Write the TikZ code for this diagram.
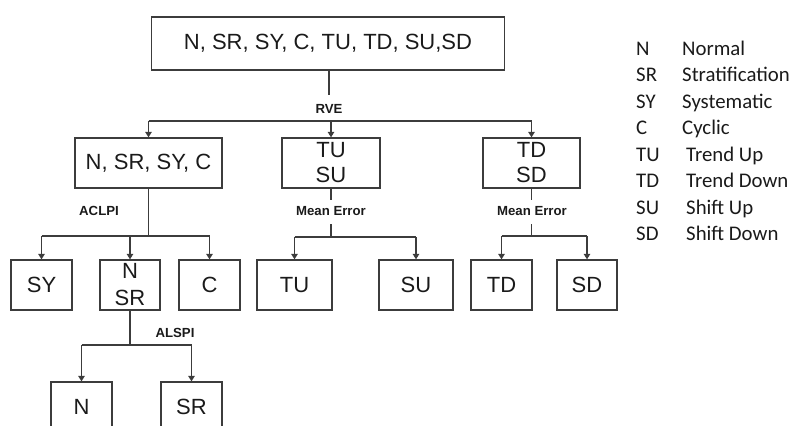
\documentclass[tikz,border=0pt]{standalone}
\usepackage{fontspec}
\setmainfont{Liberation Sans}
\newfontfamily\legendfont{Carlito}
\usepackage{tikz}
\usetikzlibrary{arrows.meta, positioning}
\definecolor{linegrey}{HTML}{3C3C3C}
\definecolor{textblack}{HTML}{1A1A1A}

\begin{document}
\begin{tikzpicture}[x=1pt, y=-1pt,
    box/.style={draw=linegrey, line width=1.3pt, inner sep=0pt, align=center,
                text=textblack, font=\fontsize{22}{25}\selectfont},
    lbl/.style={inner sep=0pt, text=textblack, font=\fontsize{13.2}{15}\selectfont\bfseries},
    link/.style={draw=linegrey, line width=1.3pt},
    arr/.style={link, -{Triangle[length=5.5pt, width=6.5pt]}},
    abbr/.style={anchor=base west, inner sep=0pt, text=textblack,
                 font=\legendfont\fontsize{20.8}{24}\selectfont}]
    \useasboundingbox (0,0) rectangle (796,426);
    \clip (0,0) rectangle (796,426);
    % Top box
    \node[box, minimum width=353pt, minimum height=53pt] (all) at (328,43.5)
         {N, SR, SY, C, TU, TD, SU,SD};
    % Groups
    \node[box, minimum width=147pt, minimum height=50pt] (gA) at (148.5,163) {N, SR, SY, C};
    \node[box, minimum width=98pt, minimum height=50pt] (gB) at (331,163) {TU\\SU};
    \node[box, minimum width=97pt, minimum height=50pt] (gC) at (531.5,163) {TD\\SD};
    % Leaves
    \node[box, minimum width=61pt, minimum height=50pt] (sy) at (41.5,285) {SY};
    \node[box, minimum width=60pt, minimum height=50pt] (nsr) at (130,285) {N\\[2pt]SR};
    \node[box, minimum width=61pt, minimum height=50pt] (cy) at (209.5,285) {C};
    \node[box, minimum width=75pt, minimum height=50pt] (tu) at (294.5,285) {TU};
    \node[box, minimum width=74pt, minimum height=50pt] (su) at (416,285) {SU};
    \node[box, minimum width=61pt, minimum height=50pt] (td) at (501.5,285) {TD};
    \node[box, minimum width=60pt, minimum height=50pt] (sd) at (587,285) {SD};
    \node[box, minimum width=61pt, minimum height=50pt] (nn) at (81.5,407) {N};
    \node[box, minimum width=61pt, minimum height=50pt] (sr) at (191.5,407) {SR};
    % Labels
    \node[lbl] (rve) at (329,109) {RVE};
    \node[lbl] (aclpi) at (99,211) {ACLPI};
    \node[lbl] (meA) at (331,211) {Mean Error};
    \node[lbl] (meB) at (532,211) {Mean Error};
    \node[lbl] (alspi) at (175,333) {ALSPI};
    % Bus points
    \coordinate (rveend) at (329,95);
    \coordinate (busA) at (0,121);
    \coordinate (busB) at (0,236);
    \coordinate (busC) at (0,237);
    \coordinate (busD) at (0,345);
    % RVE split
    \draw[link] (all.south -| rveend) -- (rveend);
    \draw[link] (gA |- busA) -- (gC |- busA);
    \draw[arr] (gA |- busA) -- (gA);
    \draw[arr] (gB |- busA) -- (gB);
    \draw[arr] (gC |- busA) -- (gC);
    % ACLPI split
    \draw[link] (gA) -- (gA |- busB);
    \draw[link] (sy |- busB) -- (cy |- busB);
    \draw[arr] (sy |- busB) -- (sy);
    \draw[arr] (nsr |- busB) -- (nsr);
    \draw[arr] (cy |- busB) -- (cy);
    % Mean Error split (up)
    \draw[link] (gB) -- (gB |- 0,200);
    \draw[link] (gB |- 0,224) -- (gB |- busC);
    \draw[link] (tu |- busC) -- (su |- busC);
    \draw[arr] (tu |- busC) -- (tu);
    \draw[arr] (su |- busC) -- (su);
    % Mean Error split (down)
    \draw[link] (gC) -- (gC |- 0,200);
    \draw[link] (gC |- 0,224) -- (gC |- busB);
    \draw[link] (td |- busB) -- (sd |- busB);
    \draw[arr] (td |- busB) -- (td);
    \draw[arr] (sd |- busB) -- (sd);
    % ALSPI split
    \draw[link] (nsr) -- (nsr |- busD);
    \draw[link] (nn |- busD) -- (sr |- busD);
    \draw[arr] (nn |- busD) -- (nn);
    \draw[arr] (sr |- busD) -- (sr);
    % Legend
    \node[abbr] (kN) at (636,55) {N};
    \node[abbr] (kSR) at (636,81.5) {SR};
    \node[abbr] (kSY) at (636,108) {SY};
    \node[abbr] (kC) at (636,134) {C};
    \node[abbr] (kTU) at (636,161) {TU};
    \node[abbr] (kTD) at (636,187) {TD};
    \node[abbr] (kSU) at (636,214) {SU};
    \node[abbr] (kSD) at (636,240) {SD};
    \node[abbr] at (682,55) {Normal};
    \node[abbr] at (682,81.5) {Stratification};
    \node[abbr] at (682,108) {Systematic};
    \node[abbr] at (682,134) {Cyclic};
    \node[abbr] at (686,161) {Trend Up};
    \node[abbr] at (686,187) {Trend Down};
    \node[abbr] at (686,214) {Shift Up};
    \node[abbr] at (686,240) {Shift Down};
\end{tikzpicture}
\end{document}
